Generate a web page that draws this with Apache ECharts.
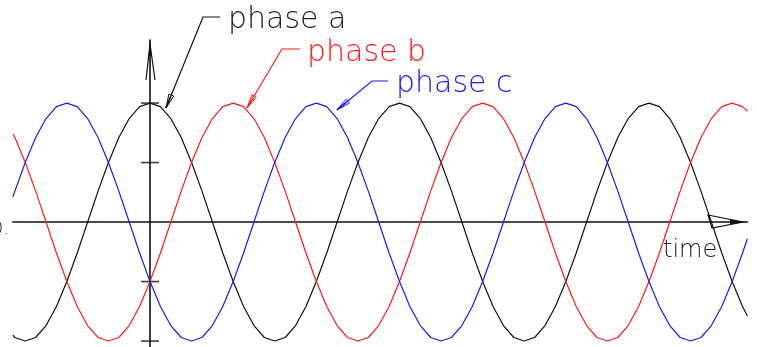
<!DOCTYPE html>
<html>
<head>
<meta charset="utf-8">
<script src="https://cdn.jsdelivr.net/npm/echarts@6/dist/echarts.min.js"></script>
<style>
    html, body { margin: 0; padding: 0; background: #fff; }
    #chart { width: 757px; height: 347px; }
</style>
</head>
<body>
<div id="chart"></div>
<script>
// angle of phase a in degrees (time axis)
var theta = [-198, -195, -180, -165, -150, -135, -120, -105, -90, -75, -60, -45, -30, -15,
    0, 15, 30, 45, 60, 75, 90, 105, 120, 135, 150, 165, 180, 195, 210, 225, 240, 255, 270, 285,
    300, 315, 330, 345, 360, 375, 390, 405, 420, 435, 450, 465, 480, 495, 510, 525, 540, 555,
    570, 585, 600, 615, 630, 645, 660, 675, 690, 705, 720, 735, 750, 765, 780, 795, 810, 825,
    840, 855, 862];

var phaseA = [-0.95,
    -0.97, -1, -0.97, -0.87, -0.71, -0.5, -0.26, 0, 0.26, 0.5, 0.71, 0.87, 0.97, 1, 0.97, 0.87, 0.71, 0.5, 0.26, 0, -0.26, -0.5, -0.71, -0.87,
    -0.97, -1, -0.97, -0.87, -0.71, -0.5, -0.26, 0, 0.26, 0.5, 0.71, 0.87, 0.97, 1, 0.97, 0.87, 0.71, 0.5, 0.26, 0, -0.26, -0.5, -0.71, -0.87,
    -0.97, -1, -0.97, -0.87, -0.71, -0.5, -0.26, 0, 0.26, 0.5, 0.71, 0.87, 0.97, 1, 0.97, 0.87, 0.71, 0.5, 0.26, 0, -0.26, -0.5, -0.71,
    -0.79];

var phaseB = [0.74,
    0.71, 0.5, 0.26, 0, -0.26, -0.5, -0.71, -0.87, -0.97, -1, -0.97, -0.87, -0.71, -0.5, -0.26, 0, 0.26, 0.5, 0.71, 0.87, 0.97, 1, 0.97, 0.87,
    0.71, 0.5, 0.26, 0, -0.26, -0.5, -0.71, -0.87, -0.97, -1, -0.97, -0.87, -0.71, -0.5, -0.26, 0, 0.26, 0.5, 0.71, 0.87, 0.97, 1, 0.97, 0.87,
    0.71, 0.5, 0.26, 0, -0.26, -0.5, -0.71, -0.87, -0.97, -1, -0.97, -0.87, -0.71, -0.5, -0.26, 0, 0.26, 0.5, 0.71, 0.87, 0.97, 1, 0.97,
    0.93];

var phaseC = [0.21,
    0.26, 0.5, 0.71, 0.87, 0.97, 1, 0.97, 0.87, 0.71, 0.5, 0.26, 0, -0.26, -0.5, -0.71, -0.87, -0.97, -1, -0.97, -0.87, -0.71, -0.5, -0.26, 0,
    0.26, 0.5, 0.71, 0.87, 0.97, 1, 0.97, 0.87, 0.71, 0.5, 0.26, 0, -0.26, -0.5, -0.71, -0.87, -0.97, -1, -0.97, -0.87, -0.71, -0.5, -0.26, 0,
    0.26, 0.5, 0.71, 0.87, 0.97, 1, 0.97, 0.87, 0.71, 0.5, 0.26, 0, -0.26, -0.5, -0.71, -0.87, -0.97, -1, -0.97, -0.87, -0.71, -0.5, -0.26,
    -0.14];

var yTicks = [-1, -0.5, 0.5, 1];
var phaseNames = ['phase a', 'phase b', 'phase c'];
var phaseColors = ['#111', '#ff1a1a', '#1a1aff'];
var timeLabel = 'time';
var originLabel = '0.';

var FONT = '200 30px "DejaVu Sans"';

function pairs(values) {
    return theta.map(function (t, i) { return [t, values[i]]; });
}

// open arrow head at (x2, y2) coming from (x1, y1)
function arrowHead(x1, y1, x2, y2, len, w) {
    var dx = x2 - x1, dy = y2 - y1;
    var L = Math.sqrt(dx * dx + dy * dy);
    var ux = dx / L, uy = dy / L;
    var bx = x2 - ux * len, by = y2 - uy * len;
    return [[bx - uy * w, by + ux * w], [x2, y2], [bx + uy * w, by - ux * w]];
}

function leader(points, color) {
    var n = points.length;
    var p = points[n - 2], q = points[n - 1];
    return [{
        type: 'polyline',
        shape: { points: points },
        style: { stroke: color, lineWidth: 1.2, fill: null }
    }, {
        type: 'polygon',
        shape: { points: arrowHead(p[0], p[1], q[0], q[1], 14, 2.6) },
        style: { stroke: color, lineWidth: 1, fill: 'rgba(255,255,255,0)' }
    }, {
        type: 'polyline',
        shape: { points: [arrowHead(p[0], p[1], q[0], q[1], 12, 0)[0], [q[0], q[1]]] },
        style: { stroke: color, lineWidth: 1.4 }
    }];
}

function label(text, x, baseline, size, color, align) {
    return {
        type: 'text',
        z: 10,
        style: {
            text: text,
            x: x,
            y: baseline - 0.3 * size,
            font: '200 ' + size + 'px "DejaVu Sans"',
            fill: color,
            textAlign: align || 'left',
            textVerticalAlign: 'middle'
        }
    };
}

var chart = echarts.init(document.getElementById('chart'));

var graphics = []
    .concat(leader([[220, 17], [203, 17], [166, 108]], phaseColors[0]))
    .concat(leader([[300, 49], [282, 49], [247, 108]], phaseColors[1]))
    .concat(leader([[388, 81], [372, 81], [337, 110]], phaseColors[2]))
    .concat([
        // arrow on vertical axis
        { type: 'polyline', shape: { points: [[146, 80], [150, 44], [155, 80]] },
          style: { stroke: '#111', lineWidth: 1.2, fill: null } },
        { type: 'polygon', shape: { points: [[148.6, 56], [150, 44], [151.6, 56]] },
          style: { fill: '#111' } },
        // arrow on time axis
        { type: 'polygon', shape: { points: [[708, 215], [743, 222], [712, 228]] },
          style: { stroke: '#111', lineWidth: 1.2, fill: null } },
        { type: 'polygon', shape: { points: [[730, 219.6], [744, 222], [730, 224.4]] },
          style: { fill: '#111' } },
        label(phaseNames[0], 228, 29, 30, '#222'),
        label(phaseNames[1], 307, 62, 30, phaseColors[1]),
        label(phaseNames[2], 396, 93, 30, phaseColors[2]),
        label(timeLabel, 663, 258, 24, '#222'),
        label(originLabel, 9, 235, 18, '#111', 'right')
    ]);

var option = {
    animation: false,
    backgroundColor: '#fff',
    grid: { left: 12.8, right: 9.6, top: 40, bottom: 0 },
    xAxis: {
        type: 'value',
        min: -198,
        max: 862,
        axisLine: { onZero: true, lineStyle: { color: '#111', width: 1.6 } },
        axisTick: { show: false },
        axisLabel: { show: false },
        splitLine: { show: false }
    },
    yAxis: {
        type: 'value',
        min: -1.05,
        max: 1.53,
        axisLine: { show: true, onZero: true, lineStyle: { color: '#111', width: 1.6 } },
        axisTick: { show: false },
        axisLabel: { show: false },
        splitLine: { show: false }
    },
    series: [
        {
            name: phaseNames[0], type: 'line', data: pairs(phaseA), showSymbol: false,
            lineStyle: { color: phaseColors[0], width: 1.2 }, silent: true
        },
        {
            name: phaseNames[1], type: 'line', data: pairs(phaseB), showSymbol: false,
            lineStyle: { color: phaseColors[1], width: 1.2 }, silent: true
        },
        {
            name: phaseNames[2], type: 'line', data: pairs(phaseC), showSymbol: false,
            lineStyle: { color: phaseColors[2], width: 1.2 }, silent: true
        },
        {
            // tick marks across the vertical axis
            type: 'scatter', data: yTicks.map(function (v) { return [0, v]; }),
            symbol: 'rect', symbolSize: [18, 1.6],
            itemStyle: { color: '#111' }, silent: true, z: 5
        }
    ],
    graphic: graphics
};

chart.setOption(option);
</script>
</body>
</html>
